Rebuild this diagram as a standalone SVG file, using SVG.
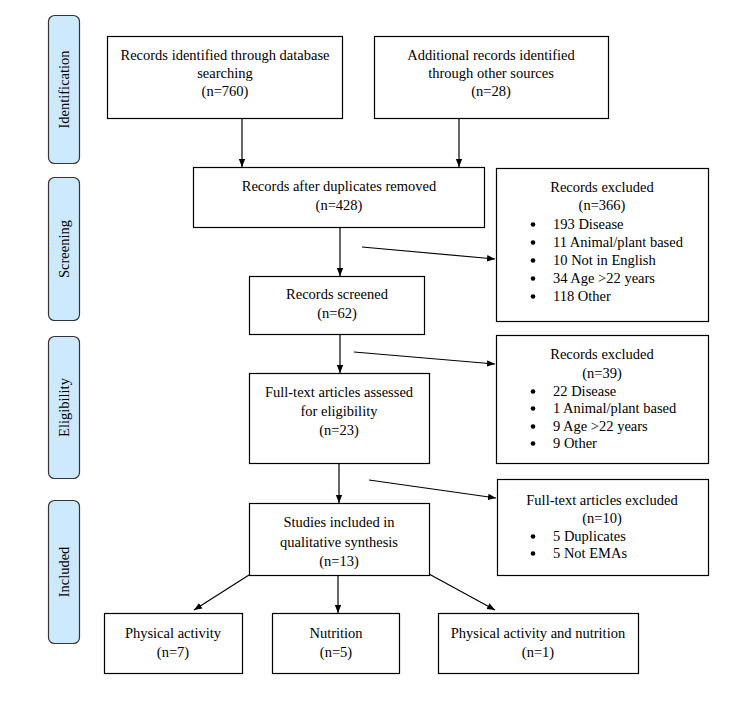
<svg xmlns="http://www.w3.org/2000/svg" width="750" height="719" viewBox="0 0 750 719" font-family="'Liberation Serif', 'DejaVu Serif', serif">
<style>
text{font-family:'Liberation Serif','Times New Roman','DejaVu Serif',serif;font-size:14.5px;fill:#000}
.c{text-anchor:middle}
.box{fill:#fff;stroke:#000;stroke-width:1.2}
.pill{fill:#cde9fd;stroke:#333;stroke-width:1.2}
.ln{stroke:#000;stroke-width:1.2;fill:none;marker-end:url(#ah)}
</style>
<defs>
<marker id="ah" viewBox="0 0 10 10" refX="10" refY="5" markerWidth="8" markerHeight="8" markerUnits="userSpaceOnUse" orient="auto">
<path d="M0,1 L10,5 L0,9 z" fill="#000"/>
</marker>
</defs>
<rect width="750" height="719" fill="#fff"/>
<g id="phase-identification"><rect class="pill" x="48.5" y="15.5" width="31" height="148" rx="6"/><text class="c" transform="translate(68.5,89.5) rotate(-90)">Identification</text></g>
<g id="phase-screening"><rect class="pill" x="48.5" y="177.5" width="31" height="143" rx="6"/><text class="c" transform="translate(68.5,249) rotate(-90)">Screening</text></g>
<g id="phase-eligibility"><rect class="pill" x="48.5" y="336.5" width="31" height="142" rx="6"/><text class="c" transform="translate(68.5,407.5) rotate(-90)">Eligibility</text></g>
<g id="phase-included"><rect class="pill" x="48.5" y="500.5" width="31" height="143" rx="6"/><text class="c" transform="translate(68.5,572) rotate(-90)">Included</text></g>

<g id="connectors">
<line class="ln" x1="242" y1="119" x2="242" y2="167"/>
<line class="ln" x1="459" y1="119" x2="459" y2="167"/>
<line class="ln" x1="340" y1="227" x2="340" y2="276"/>
<line class="ln" x1="362" y1="247" x2="495" y2="259"/>
<line class="ln" x1="340" y1="335" x2="340" y2="373"/>
<line class="ln" x1="354" y1="352" x2="495" y2="364"/>
<line class="ln" x1="339" y1="463" x2="339" y2="503"/>
<line class="ln" x1="369" y1="480" x2="496" y2="498"/>
<line class="ln" x1="249" y1="575" x2="194" y2="610"/>
<line class="ln" x1="338" y1="575" x2="338" y2="613"/>
<line class="ln" x1="429" y1="574" x2="495" y2="610"/>
</g>

<g id="n-db"><rect class="box" x="107.5" y="36.5" width="235" height="82"/>
<text class="c" x="225" y="60">Records identified through database</text>
<text class="c" x="225" y="78">searching</text>
<text class="c" x="225" y="96">(n=760)</text></g>

<g id="n-other"><rect class="box" x="374.5" y="36.5" width="234" height="82"/>
<text class="c" x="491" y="60">Additional records identified</text>
<text class="c" x="491" y="78">through other sources</text>
<text class="c" x="491" y="96">(n=28)</text></g>

<g id="n-dup"><rect class="box" x="193.5" y="167.5" width="291" height="60"/>
<text class="c" x="339" y="191">Records after duplicates removed</text>
<text class="c" x="339" y="210">(n=428)</text></g>

<g id="n-excl1"><rect class="box" x="496.5" y="168.5" width="212" height="153"/>
<text class="c" x="602" y="192">Records excluded</text>
<text class="c" x="602" y="210">(n=366)</text>
<g><circle cx="533" cy="224.5" r="2.3"/><text x="553" y="229">193 Disease</text></g>
<g><circle cx="533" cy="242.5" r="2.3"/><text x="553" y="247">11 Animal/plant based</text></g>
<g><circle cx="533" cy="260.5" r="2.3"/><text x="553" y="265">10 Not in English</text></g>
<g><circle cx="533" cy="278.5" r="2.3"/><text x="553" y="283">34 Age &gt;22 years</text></g>
<g><circle cx="533" cy="296.5" r="2.3"/><text x="553" y="301">118 Other</text></g></g>

<g id="n-screened"><rect class="box" x="249.5" y="276.5" width="175" height="58"/>
<text class="c" x="337" y="299">Records screened</text>
<text class="c" x="337" y="318">(n=62)</text></g>

<g id="n-excl2"><rect class="box" x="496.5" y="335.5" width="212" height="128"/>
<text class="c" x="602" y="359">Records excluded</text>
<text class="c" x="602" y="378">(n=39)</text>
<g><circle cx="533" cy="391.5" r="2.3"/><text x="553" y="396">22 Disease</text></g>
<g><circle cx="533" cy="408.5" r="2.3"/><text x="553" y="413">1 Animal/plant based</text></g>
<g><circle cx="533" cy="426.5" r="2.3"/><text x="553" y="431">9 Age &gt;22 years</text></g>
<g><circle cx="533" cy="443.5" r="2.3"/><text x="553" y="448">9 Other</text></g></g>

<g id="n-fulltext"><rect class="box" x="249.5" y="373.5" width="180" height="90"/>
<text class="c" x="339" y="397">Full-text articles assessed</text>
<text class="c" x="339" y="416">for eligibility</text>
<text class="c" x="339" y="435">(n=23)</text></g>

<g id="n-excl3"><rect class="box" x="497.5" y="479.5" width="211" height="96"/>
<text class="c" x="602" y="505">Full-text articles excluded</text>
<text class="c" x="602" y="523">(n=10)</text>
<g><circle cx="533" cy="536.5" r="2.3"/><text x="553" y="541">5 Duplicates</text></g>
<g><circle cx="533" cy="553.5" r="2.3"/><text x="553" y="558">5 Not EMAs</text></g></g>

<g id="n-included"><rect class="box" x="249.5" y="503.5" width="180" height="72"/>
<text class="c" x="339" y="527">Studies included in</text>
<text class="c" x="339" y="547">qualitative synthesis</text>
<text class="c" x="339" y="566">(n=13)</text></g>

<g id="n-pa"><rect class="box" x="104.5" y="613.5" width="138" height="60"/>
<text class="c" x="173" y="638">Physical activity</text>
<text class="c" x="173" y="657">(n=7)</text></g>

<g id="n-nut"><rect class="box" x="272.5" y="613.5" width="127" height="60"/>
<text class="c" x="336" y="638">Nutrition</text>
<text class="c" x="336" y="657">(n=5)</text></g>

<g id="n-panut"><rect class="box" x="438.5" y="613.5" width="200" height="60"/>
<text class="c" x="538" y="638">Physical activity and nutrition</text>
<text class="c" x="538" y="657">(n=1)</text></g>
</svg>
